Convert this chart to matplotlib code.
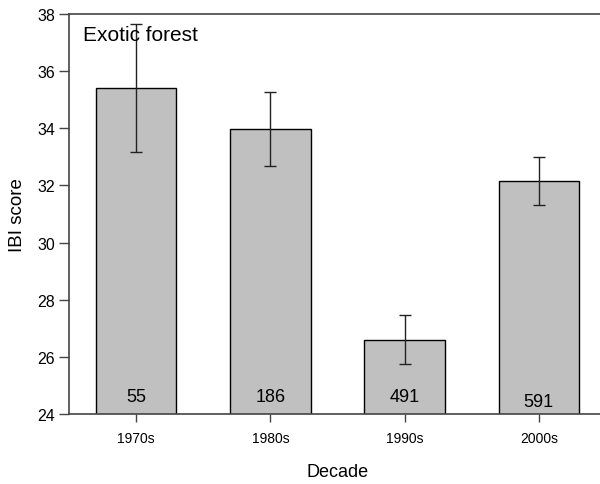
import matplotlib.pyplot as plt

plt.rcParams["font.family"] = ["Liberation Sans", "DejaVu Sans"]

decades = ["1970s", "1980s", "1990s", "2000s"]
ibi_mean = [35.42, 33.97, 26.60, 32.17]
ibi_err = [2.24, 1.30, 0.86, 0.84]
n_sites = ["55", "186", "491", "591"]
label_y = [24.63, 24.63, 24.6, 24.45]

fig = plt.figure(figsize=(6, 4.85), dpi=100)
ax = fig.add_axes([0.115, 0.1443, 0.895, 0.8247])

x = range(len(decades))
ax.bar(x, ibi_mean, width=0.6, color="#c0c0c0", edgecolor="black",
       linewidth=1.0, zorder=2)
ax.errorbar(x, ibi_mean, yerr=ibi_err, fmt="none", ecolor="#222222",
            elinewidth=1.0, capsize=4, capthick=1.0, zorder=3)

for xi, lab, yy in zip(x, n_sites, label_y):
    ax.text(xi, yy, lab, ha="center", va="center", fontsize=13, zorder=4)

ax.text(0.026, 0.948, "Exotic forest", transform=ax.transAxes,
        ha="left", va="center", fontsize=15)

ax.set_xlim(-0.5, 3.5)
ax.set_ylim(24, 38)
ax.set_yticks(range(24, 39, 2))
ax.set_xticks(list(x))
ax.set_xticklabels(decades, fontsize=10)
ax.tick_params(axis="y", labelsize=11.5, length=7, width=1, color="#444444",
               direction="out", pad=3)
ax.tick_params(axis="x", length=6, width=1, color="#444444",
               direction="out", pad=6)

for side in ["left", "top", "bottom"]:
    ax.spines[side].set_color("#444444")
    ax.spines[side].set_linewidth(1.2)
ax.spines["right"].set_visible(False)

ax.set_xlabel("Decade", fontsize=13, labelpad=13)
ax.set_ylabel("IBI score", fontsize=13.5, labelpad=8)

fig.savefig("out.png", dpi=100)
